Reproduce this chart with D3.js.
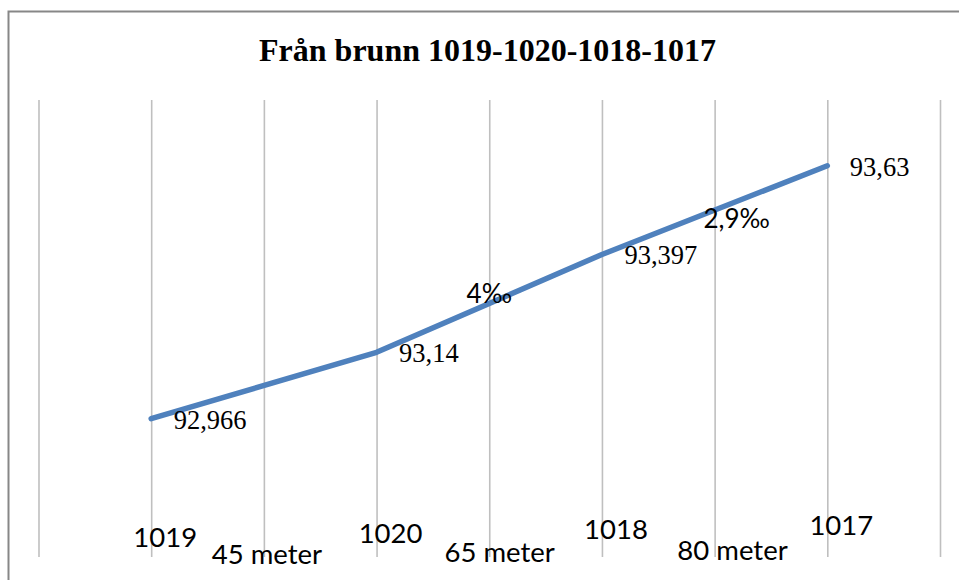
<!DOCTYPE html>
<html>
<head>
<meta charset="utf-8">
<script src="https://cdn.jsdelivr.net/npm/d3@7"></script>
<style>
  html, body { margin: 0; padding: 0; background: #fff; }
  svg { display: block; }
</style>
</head>
<body>
<svg id="chart" width="959" height="580"></svg>
<script>
// ---- data ----
const title = "Från brunn 1019-1020-1018-1017";
const categories = ["", "1019", "45 meter", "1020", "65 meter", "1018", "80 meter", "1017", ""];
const wells = ["1019", "1020", "1018", "1017"];
const levels = [92.966, 93.14, 93.397, 93.63];
const levelLabels = ["92,966", "93,14", "93,397", "93,63"];
const distances = ["45 meter", "65 meter", "80 meter"];
const slopeSegments = ["65 meter", "80 meter"];
const slopeLabels = ["4‰", "2,9‰"];
const yDomain = [92.6, 93.8];

// ---- drawing ----
const svg = d3.select("#chart");
const plot = { left: 38.5, right: 940, top: 100, bottom: 557 };

const x = d3.scalePoint()
  .domain(d3.range(categories.length))
  .range([plot.left, plot.right]);
const y = d3.scaleLinear().domain(yDomain).range([plot.bottom + 1, plot.top + 1]);

// frame
svg.append("rect")
  .attr("x", 8.5).attr("y", 11.5)
  .attr("width", 970).attr("height", 600)
  .attr("fill", "#fff")
  .attr("stroke", "#878787")
  .attr("stroke-width", 2);

// vertical gridlines via axis
const grid = svg.append("g")
  .attr("transform", `translate(0,${plot.bottom})`)
  .call(d3.axisBottom(x).tickSize(-(plot.bottom - plot.top)).tickFormat(""));
grid.select(".domain").remove();
grid.selectAll(".tick line").attr("stroke", "#bfbfbf").attr("stroke-width", 1.6);

// title
svg.append("text")
  .attr("x", 487.5).attr("y", 61)
  .attr("text-anchor", "middle")
  .attr("font-family", "'Liberation Serif', 'Times New Roman', serif")
  .attr("font-weight", "bold")
  .attr("font-size", 32)
  .attr("fill", "#000")
  .text(title);

// line
const pts = wells.map((w, i) => ({ cx: x(categories.indexOf(w)), cy: y(levels[i]), label: levelLabels[i] }));
svg.append("path")
  .datum(pts)
  .attr("fill", "none")
  .attr("stroke", "#4f81bd")
  .attr("stroke-width", 5.5)
  .attr("stroke-linecap", "round")
  .attr("stroke-linejoin", "round")
  .attr("d", d3.line().x(d => d.cx).y(d => d.cy));

// value labels (right of point)
svg.append("g").selectAll("text")
  .data(pts).join("text")
  .attr("x", d => d.cx + 22.5)
  .attr("y", d => d.cy + 10)
  .attr("font-family", "'Liberation Serif', 'Times New Roman', serif")
  .attr("font-size", 26.5)
  .attr("fill", "#000")
  .text(d => d.label);

// slope labels
const sans = "Lato, 'Open Sans', sans-serif";
const slopeOffsets = [[0, 0], [22, 18]];
slopeLabels.forEach((s, i) => {
  const ci = categories.indexOf(slopeSegments[i]);
  const a = pts[(ci - 2) / 2], b = pts[ci / 2];
  const mx = (a.cx + b.cx) / 2, my = (a.cy + b.cy) / 2;
  svg.append("text")
    .attr("x", mx + slopeOffsets[i][0])
    .attr("y", my + slopeOffsets[i][1])
    .attr("text-anchor", "middle")
    .attr("font-family", sans)
    .attr("font-size", 26)
    .attr("fill", "#000")
    .text(s);
});

// category labels (text boxes drift slightly upward to the right)
svg.append("g").selectAll("text")
  .data(wells).join("text")
  .attr("x", d => x(categories.indexOf(d)) + 14)
  .attr("y", d => 547 - (x(categories.indexOf(d)) - 150) * 0.017)
  .attr("text-anchor", "middle")
  .attr("font-family", sans)
  .attr("font-size", 27.5)
  .attr("fill", "#000")
  .text(d => d);

svg.append("g").selectAll("text")
  .data(distances).join("text")
  .attr("x", d => x(categories.indexOf(d)) + 3 + (x(categories.indexOf(d)) - 263) * 0.033)
  .attr("y", d => 564 - (x(categories.indexOf(d)) - 263) * 0.008)
  .attr("text-anchor", "middle")
  .attr("font-family", sans)
  .attr("font-size", 27.5)
  .attr("fill", "#000")
  .text(d => d);
</script>
</body>
</html>
